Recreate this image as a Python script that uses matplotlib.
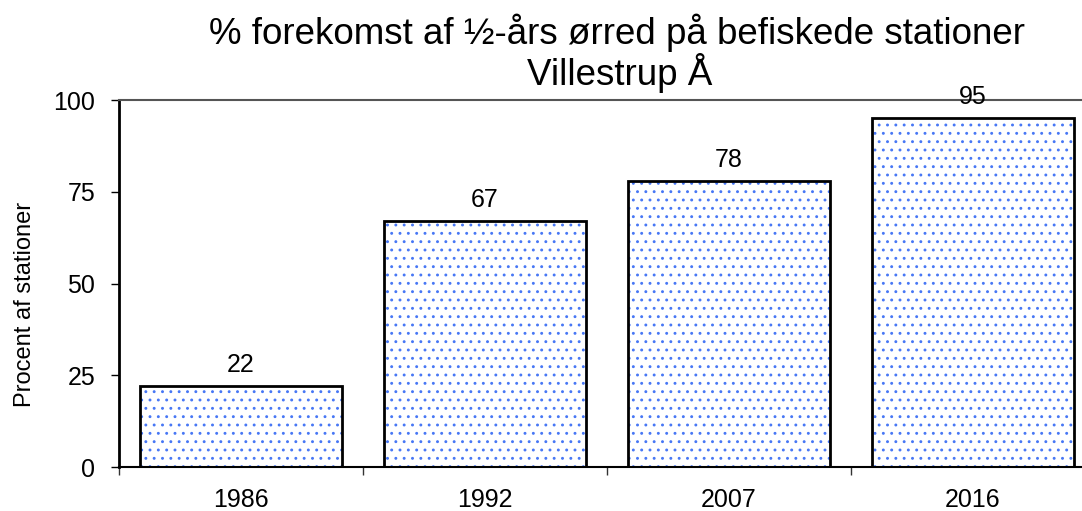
import matplotlib
matplotlib.use("Agg")
import matplotlib.pyplot as plt

# data
years = ["1986", "1992", "2007", "2016"]
procent = [22, 67, 78, 95]
yticks = [0, 25, 50, 75, 100]
titel1 = "% forekomst af ½-års ørred på befiskede stationer"
titel2 = "Villestrup Å"

plt.rcParams['font.family'] = ['Liberation Sans', 'DejaVu Sans']
plt.rcParams['hatch.linewidth'] = 0.9

fig = plt.figure(figsize=(10.82, 5.11), dpi=100)
ax = fig.add_axes([119/1082, 1 - 467/511, (1095 - 119)/1082, (467 - 100)/511])

x = range(len(years))
# dotted fill first, then black outline on top
ax.bar(x, procent, width=0.83, color="white", edgecolor="#4777f5", hatch="..", linewidth=0, zorder=2)
ax.bar(x, procent, width=0.83, fill=False, edgecolor="black", linewidth=2, zorder=3)

for i, v in enumerate(procent):
    ax.annotate(str(v), (i, v), xytext=(0, 6.5), textcoords="offset points",
                ha="center", va="bottom", fontsize=18)

ax.set_xlim(-0.5, len(years) - 0.5)
ax.set_ylim(0, 100)
ax.set_yticks(yticks)
ax.set_xticks(x)
ax.set_xticklabels(years)
ax.set_xticks([i + 0.5 for i in range(-1, len(years))], minor=True)
ax.tick_params(axis="x", which="major", length=0, labelsize=18, pad=15)
ax.tick_params(axis="x", which="minor", length=6, width=1, color="#333333")
ax.tick_params(axis="y", labelsize=18, length=6, width=1, pad=11)

ax.spines["left"].set_linewidth(2)
ax.spines["bottom"].set_linewidth(1.5)
ax.spines["top"].set_linewidth(1.5)
ax.spines["top"].set_color("#555555")
ax.spines["right"].set_visible(False)

ax.set_ylabel("Procent af stationer", fontsize=17)
ax.yaxis.set_label_coords((36 - 119)/976, (467 - 304)/367)

# two title lines as separate texts
fig.text(617/1082, 1 - 44/511, titel1, ha="center", va="baseline", fontsize=26.5)
fig.text(620/1082, 1 - 85/511, titel2, ha="center", va="baseline", fontsize=26.5)

fig.savefig("out.png", dpi=100)
